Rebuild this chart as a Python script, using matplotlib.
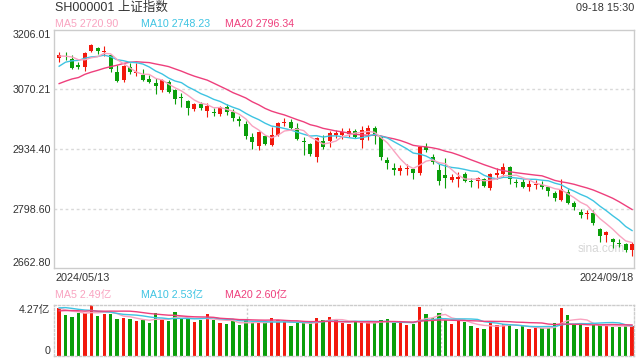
import matplotlib
matplotlib.use("Agg")
import matplotlib.pyplot as plt
import numpy as np
import pandas as pd

# ---------------- data ----------------
start_label = "2024/05/13"
end_label = "2024/09/18"
title = "SH000001 上证指数"
timestamp = "09-18 15:30"

# values shown in the legend lines (as printed on the chart)
price_ma_names = ["MA5", "MA10", "MA20"]
price_ma_values = [2720.90, 2748.23, 2796.34]
vol_ma_values = [2.49, 2.53, 2.60]

# closes / volumes before the first visible day (only used for moving averages)
prior_close = [3034.25, 3019.47, 3057.38, 3007.07, 3071.38, 3074.22, 3065.26, 3044.60,
               3021.98, 3044.82, 3052.90, 3088.64, 3113.04, 3104.82, 3140.72, 3147.74,
               3128.48, 3154.32, 3154.55]
prior_vol = [2.9, 3.3, 3.9, 4.3, 3.6, 3.9, 3.7, 3.4, 3.2, 3.1, 3.2, 3.9, 4.4, 4.2, 4.6,
             4.1, 3.8, 3.9, 4.2]

opens = [3142.8, 3147.5, 3140.0, 3126.0, 3121.0, 3158.0, 3166.0, 3155.0, 3150.0, 3110.0,
         3092.0, 3122.0, 3108.0, 3104.0, 3095.0, 3086.0, 3068.0, 3088.0, 3069.0, 3053.0,
         3043.0, 3026.0, 3037.0, 3022.0, 3019.0, 3015.0, 3031.0, 3018.0, 3003.0, 2991.0,
         2961.0, 2942.0, 2963.0, 2943.0, 2967.0, 2993.0, 2996.0, 2982.0, 2953.0, 2945.0,
         2917.0, 2952.0, 2952.0, 2966.0, 2966.0, 2969.0, 2975.0, 2955.0, 2968.0, 2983.0,
         2963.0, 2909.0, 2892.0, 2884.0, 2889.0, 2889.0, 2880.0, 2939.0, 2917.0, 2886.0,
         2874.0, 2864.0, 2866.0, 2878.0, 2861.0, 2861.0, 2866.0, 2845.0, 2876.0, 2877.0,
         2893.0, 2860.0, 2860.0, 2847.0, 2852.0, 2853.0, 2847.0, 2834.0, 2818.0, 2837.0,
         2811.0, 2790.0, 2785.0, 2788.0, 2752.0, 2737.0, 2730.0, 2721.0, 2717.0, 2703.0]
highs = [3155.0, 3156.0, 3148.0, 3134.0, 3156.0, 3174.27, 3168.0, 3170.0, 3152.0, 3126.0,
         3125.0, 3130.0, 3130.0, 3117.0, 3104.0, 3097.0, 3094.0, 3091.0, 3072.0, 3063.0,
         3046.0, 3040.0, 3042.0, 3039.0, 3029.0, 3033.0, 3036.0, 3025.0, 3010.0, 2998.0,
         2970.0, 2975.0, 2966.0, 2985.0, 2996.0, 3005.0, 3002.0, 2993.0, 2961.0, 2948.0,
         2961.0, 2966.0, 2975.0, 2977.0, 2983.0, 2982.0, 2980.0, 2988.0, 2990.0, 2986.0,
         2965.0, 2917.0, 2903.0, 2898.0, 2900.0, 2892.0, 2940.0, 2948.0, 2924.0, 2901.0,
         2915.0, 2878.0, 2882.0, 2881.0, 2868.0, 2870.0, 2868.0, 2880.0, 2890.0, 2903.0,
         2895.0, 2866.0, 2866.0, 2864.0, 2864.0, 2861.0, 2851.0, 2838.0, 2865.0, 2842.0,
         2815.0, 2797.0, 2796.0, 2795.0, 2755.0, 2747.0, 2731.0, 2728.0, 2720.0, 2722.0]
lows = [3133.0, 3137.0, 3117.0, 3116.0, 3113.0, 3155.0, 3151.0, 3146.0, 3110.0, 3087.0,
        3088.0, 3105.0, 3102.0, 3089.0, 3085.0, 3061.0, 3064.0, 3062.0, 3036.0, 3031.0,
        3012.0, 3021.0, 3024.0, 3008.0, 3009.0, 3010.0, 3013.0, 2998.0, 2988.0, 2957.0,
        2934.0, 2933.0, 2943.0, 2941.0, 2963.0, 2986.0, 2978.0, 2956.0, 2920.0, 2918.0,
        2905.0, 2935.0, 2940.0, 2959.0, 2957.0, 2962.0, 2960.0, 2936.0, 2956.0, 2946.0,
        2910.0, 2888.0, 2874.0, 2874.0, 2876.0, 2865.0, 2876.0, 2927.0, 2901.0, 2852.0,
        2845.0, 2860.0, 2848.0, 2858.0, 2848.0, 2846.0, 2848.0, 2840.0, 2866.0, 2872.0,
        2855.0, 2847.0, 2846.0, 2838.0, 2843.0, 2844.0, 2828.0, 2815.0, 2815.0, 2808.0,
        2795.0, 2778.0, 2775.0, 2761.0, 2723.0, 2722.0, 2708.0, 2711.0, 2700.0, 2689.70]
closes = [3148.02, 3145.77, 3119.90, 3122.40, 3154.03, 3171.15, 3157.97, 3158.54, 3116.39, 3088.87,
          3124.04, 3109.57, 3111.02, 3091.68, 3086.81, 3078.49, 3091.20, 3065.40, 3048.79, 3051.28,
          3028.05, 3037.47, 3028.92, 3032.63, 3015.89, 3030.25, 3018.05, 3005.44, 2998.14, 2963.10,
          2950.00, 2972.53, 2945.85, 2967.40, 2994.73, 2997.01, 2982.38, 2957.57, 2949.93, 2922.45,
          2959.37, 2939.36, 2970.39, 2971.30, 2974.01, 2976.30, 2962.77, 2977.13, 2982.31, 2964.22,
          2915.37, 2901.95, 2886.43, 2890.90, 2891.85, 2879.30, 2938.75, 2932.39, 2905.34, 2860.70,
          2867.28, 2869.90, 2869.83, 2862.19, 2858.20, 2867.95, 2850.65, 2877.36, 2879.43, 2893.67,
          2866.66, 2856.58, 2848.77, 2854.37, 2855.52, 2848.73, 2837.43, 2823.11, 2842.21, 2811.04,
          2802.98, 2784.28, 2788.22, 2765.81, 2736.49, 2744.19, 2721.80, 2717.12, 2704.09, 2717.28]
volumes = [3.99, 3.42, 3.25, 3.62, 3.62, 4.27, 3.33, 3.53, 3.53, 3.10,
           3.19, 3.10, 2.93, 2.99, 2.76, 3.59, 3.10, 2.93, 3.70, 3.19,
           3.10, 2.85, 3.02, 3.50, 3.02, 2.76, 2.65, 2.93, 2.56, 3.02,
           2.76, 2.82, 2.76, 3.16, 2.99, 2.88, 2.48, 2.76, 2.76, 2.82,
           3.16, 2.99, 3.25, 3.05, 2.76, 2.65, 2.88, 2.76, 2.82, 2.76,
           2.99, 3.07, 2.76, 2.82, 2.56, 2.65, 4.10, 3.50, 3.15, 3.59,
           3.05, 2.65, 2.96, 2.85, 2.48, 2.31, 2.22, 2.82, 2.62, 2.65,
           2.65, 2.28, 2.48, 2.28, 2.31, 2.31, 2.31, 2.75, 4.01, 3.42,
           2.67, 2.58, 2.41, 2.58, 2.58, 2.60, 2.42, 2.42, 2.50, 2.51]

price_ticks = [2662.80, 2798.60, 2934.40, 3070.21, 3206.01]
price_tick_labels = ["2662.80", "2798.60", "2934.40", "3070.21", "3206.01"]
vol_max = 4.27
vol_tick_labels = ["0", "4.27亿"]

# ---------------- styling ----------------
RED = "#f2180c"
GREEN = "#0a9e0a"
C_MA5 = "#f9a3c0"
C_MA10 = "#3ec4e2"
C_MA20 = "#ee3f7c"
MA_COLORS = [C_MA5, C_MA10, C_MA20]
TXT = "#333333"
FONT = ["Liberation Sans", "Noto Sans CJK SC"]
plt.rcParams["font.family"] = FONT

W, H = 640, 360


def fx(x):
    return x / W


def fy(y):
    return 1 - y / H


closes_all = pd.Series(prior_close + closes)
vol_all = pd.Series(prior_vol + volumes)
n = len(closes)
ma = {k: closes_all.rolling(k).mean().values[-n:] for k in (5, 10, 20)}
vma = {k: vol_all.rolling(k).mean().values[-n:] for k in (5, 10, 20)}

x = np.arange(n)
o = np.array(opens)
c = np.array(closes)
hi = np.array(highs)
lo = np.array(lows)
up = c >= o
cols = np.where(up, RED, GREEN)

fig = plt.figure(figsize=(6.4, 3.6), dpi=100)
ax = fig.add_axes([fx(54), fy(268), fx(580), 238 / H])
axv = fig.add_axes([fx(54), fy(356), fx(580), 51 / H])

xlim = (-0.8, n - 1 + 0.3)

# main panel
ax.set_xlim(*xlim)
ax.set_ylim(price_ticks[0], price_ticks[-1])
for t in price_ticks[1:-1]:
    ax.axhline(t, color="#d9d9d9", lw=1.0, ls=(0, (2, 2)), zorder=0)
ax.vlines(x, lo, hi, colors=cols, lw=0.8, zorder=2)
body_bottom = np.minimum(o, c)
body_h = np.maximum(np.abs(c - o), 1.6)
ax.bar(x, body_h, bottom=body_bottom, width=0.62, color=cols, lw=0, zorder=3)
ax.plot(x, ma[20], color=C_MA20, lw=1.0, zorder=4)
ax.plot(x, ma[10], color=C_MA10, lw=1.0, zorder=4)
ax.plot(x, ma[5], color=C_MA5, lw=1.0, zorder=4)
ax.set_yticks(price_ticks)
ax.set_yticklabels(price_tick_labels)
ax.tick_params(axis="y", length=0, pad=2.5, labelsize=7.7, labelcolor=TXT)
ax.set_xticks([])
labs = ax.get_yticklabels()
labs[0].set_verticalalignment("bottom")
labs[-1].set_verticalalignment("top")
for s in ax.spines.values():
    s.set_color("#cccccc")
    s.set_linewidth(1.0)

ax.text(0.985, 0.08, "sina.com", transform=ax.transAxes, ha="right", va="center",
        fontsize=8.5, color="#d6d6d6", zorder=1)

# volume panel
axv.set_xlim(*xlim)
axv.set_ylim(0, vol_max)
axv.bar(x, volumes, width=0.52, color=cols, lw=0, zorder=2)
axv.plot(x, vma[5], color=C_MA5, lw=1.0, zorder=3)
axv.plot(x, vma[10], color=C_MA10, lw=1.0, zorder=3)
axv.plot(x, vma[20], color=C_MA20, lw=1.0, zorder=3)
axv.set_yticks([0, vol_max])
axv.set_yticklabels(vol_tick_labels)
axv.tick_params(axis="y", length=0, pad=2.5, labelsize=7.7, labelcolor=TXT)
vl = axv.get_yticklabels()
vl[0].set_verticalalignment("bottom")
vl[1].set_verticalalignment("top")
axv.set_xticks([])
for s in axv.spines.values():
    s.set_color("#cccccc")
    s.set_linewidth(1.0)
    s.set_linestyle((0, (1.5, 1.5)))
for frac in (1 / 3, 2 / 3):
    axv.axvline(xlim[0] + frac * (xlim[1] - xlim[0]), color="#cccccc", lw=1.0,
                ls=(0, (1.5, 1.5)), zorder=1)

# header texts
fig.text(fx(55), fy(8), title, fontsize=9, color=TXT, va="center", ha="left")
fig.text(fx(634), fy(8), timestamp, fontsize=7.8, color=TXT, va="center", ha="right")
legend_x = [55, 141, 225]
for name, val, col, lx in zip(price_ma_names, price_ma_values, MA_COLORS, legend_x):
    fig.text(fx(lx), fy(24), f"{name} {val:.2f}", fontsize=7.7, color=col, va="center")

fig.text(fx(55), fy(278), start_label, fontsize=7.8, color=TXT, va="center", ha="left")
fig.text(fx(634), fy(278), end_label, fontsize=7.8, color=TXT, va="center", ha="right")

for name, val, col, lx in zip(price_ma_names, vol_ma_values, MA_COLORS, legend_x):
    fig.text(fx(lx), fy(295), f"{name} {val:.2f}亿", fontsize=7.7, color=col, va="center")

fig.savefig("out.png", dpi=100, facecolor="white")
